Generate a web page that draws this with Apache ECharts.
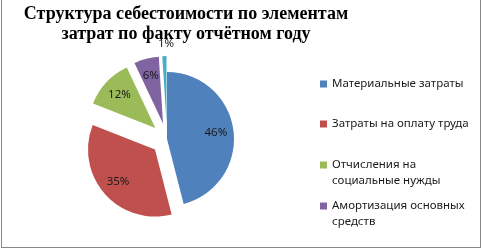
<!DOCTYPE html>
<html><head><meta charset="utf-8">
<script src="https://cdn.jsdelivr.net/npm/echarts@6/dist/echarts.min.js"></script>
<style>
html,body{margin:0;padding:0;background:#fff;}
#c{position:absolute;left:0;top:0;width:482px;height:250px;}
#frame{position:absolute;left:1px;top:0px;width:478px;height:247px;border:1px solid #888;border-top:none;pointer-events:none;}
</style></head>
<body>
<div id="c"></div><div id="frame"></div>
<script>
const titleText = 'Структура себестоимости по элементам\nзатрат по факту отчётном году';
const categories = ['Материальные затраты','Затраты на оплату труда','Отчисления на социальные нужды','Амортизация основных средств','Прочие затраты'];
const legendLines = [
  ['Материальные затраты'],
  ['Затраты на оплату труда'],
  ['Отчисления на','социальные нужды'],
  ['Амортизация основных','средств']
];
const values = [46, 35, 12, 6, 1];
const exploded = [false, true, true, true, true];
const colors = ['#4F81BD','#C0504D','#9BBB59','#8064A2','#4BACC6'];

const chart = echarts.init(document.getElementById('c'));
const center = [167, 139];
const R = 67;

const mainData = categories.map((n,i)=>({
  name:n, value:values[i], selected:exploded[i],
  itemStyle:{color:colors[i]},
  label: i===4 ? {show:true, position:'outside'} : {show:false},
  labelLine: {show:false, length:8, length2:0}
}));
const overlayData = categories.map((n,i)=>({
  name:n, value:values[i], selected:exploded[i],
  label:{show:i!==4}
}));

const lineCenters = [[84],[124],[165,181],[206,222]];
const legendFont = {fontFamily:'Noto Sans', fontSize:11.5, color:'#1a1a1a', lineHeight:16};
const legends = [];
legendLines.forEach((lines,i)=>{
  lines.forEach((txt,j)=>{
    const l = {
      data:[categories[i]],
      orient:'vertical', left:320, top:lineCenters[i][j]-8, padding:0,
      itemWidth:7, itemHeight:7, itemGap:0,
      icon:'rect', selectedMode:false,
      formatter:()=>txt,
      textStyle:Object.assign({padding:[0,0,0,0]}, legendFont)
    };
    if (j>0) l.itemStyle = {color:'rgba(0,0,0,0)', opacity:0};
    legends.push(l);
  });
});

chart.setOption({
  animation:false,
  color:colors,
  title:{text:titleText, left:186, textAlign:'center', top:4, padding:0,
    textStyle:{fontFamily:'Liberation Serif', fontWeight:'bold', fontSize:18, color:'#000', lineHeight:20}},
  legend:legends,
  series:[
    {type:'pie', center:center, radius:[0,R], startAngle:90, clockwise:true,
     selectedMode:'multiple', selectedOffset:16, silent:true,
     label:{fontFamily:'Noto Sans', fontSize:11.5, color:'#1a1a1a', formatter:'{c}%'},
     labelLayout:(p)=> p.dataIndex===4 ? {dx:15, dy:-4} : {},
     emphasis:{disabled:true},
     data:mainData},
    {type:'pie', center:center, radius:[0,R*1.38], startAngle:90, clockwise:true,
     selectedMode:'multiple', selectedOffset:16, silent:true,
     itemStyle:{color:'rgba(0,0,0,0)'},
     label:{show:true, position:'inside', formatter:'{c}%', fontFamily:'Noto Sans', fontSize:11.5, color:'#1a1a1a'},
     labelLine:{show:false},
     emphasis:{disabled:true},
     legendHoverLink:false,
     data:overlayData}
  ]
});
</script>
</body></html>
